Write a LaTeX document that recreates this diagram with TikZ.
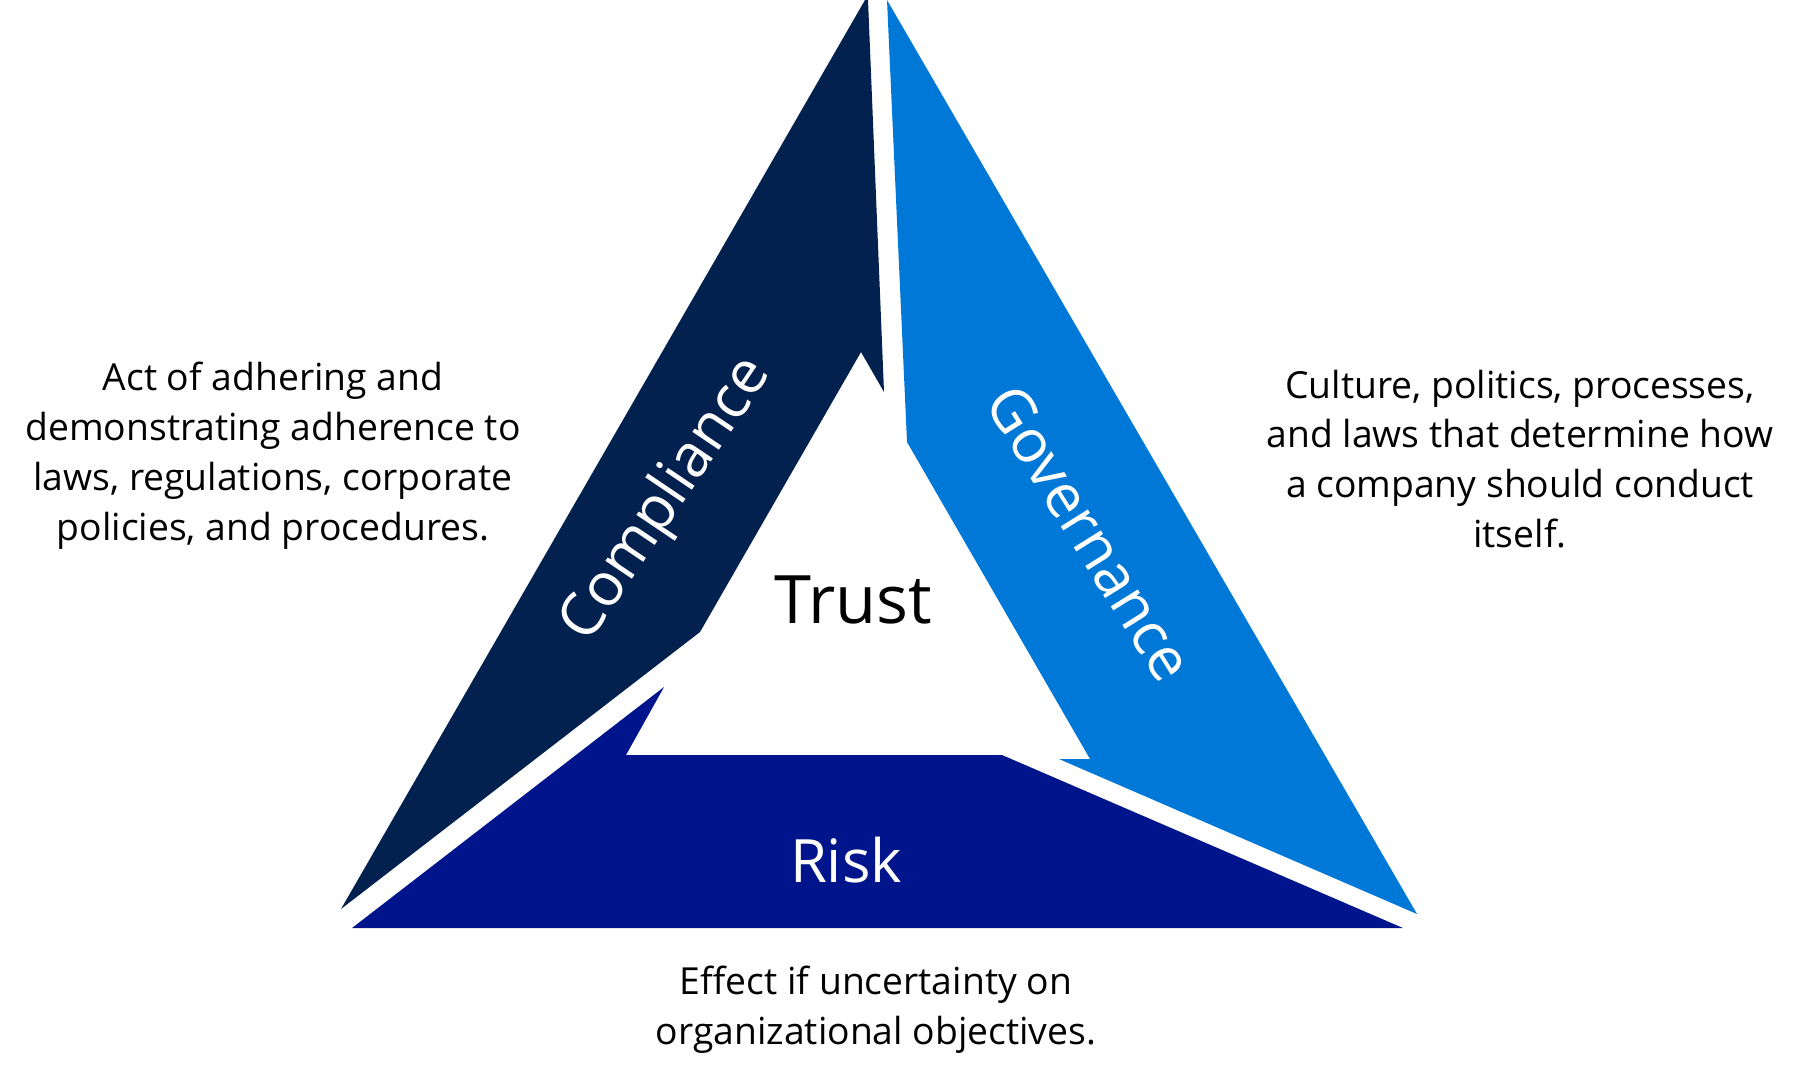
\documentclass[tikz,border=0pt]{standalone}
\usepackage{fontspec}
\setmainfont{Open Sans}
\definecolor{compnavy}{HTML}{03214F}
\definecolor{govblue}{HTML}{0078D7}
\definecolor{riskblue}{HTML}{00158C}
\tikzset{
  desc/.style={align=center, font=\fontsize{10.6}{14.2}\selectfont, inner sep=0pt},
  side/.style={text=white, font=\fontsize{17}{20}\selectfont, inner sep=0pt}
}
\begin{document}
\begin{tikzpicture}[x=0.01cm, y=-0.01cm]
        \useasboundingbox (0,0) rectangle (1810,1084);

        % the three sides
        \fill[compnavy] (865,0) -- (868,0) -- (884,392) -- (861,352) -- (700,632) -- (341,909) -- cycle;
        \fill[govblue] (887,0) -- (1417,914) -- (1059,759) -- (1090,759) -- (907,442) -- cycle;
        \fill[riskblue] (352,928) -- (664,687) -- (626,755) -- (1002,755) -- (1403,928) -- cycle;

        \node[side, rotate=56] (compliance) at (667,500) {Compliance};
        \node[side, rotate=-58] (governance) at (1090,533) {Governance};
        \node[side] (risk) at (846,860) {Risk};
        \node[font=\fontsize{19}{23}\selectfont, inner sep=0pt] (trust) at (853,600) {Trust};

        \node[desc] (compdesc) at (273,456) {Act of adhering and\\demonstrating adherence to\\laws, regulations, corporate\\policies, and procedures.};
        \node[desc] (govdesc) at (1520,459) {Culture, politics, processes,\\and laws that determine how\\a company should conduct\\itself.};
        \node[desc] (riskdesc) at (876,1010) {Effect if uncertainty on\\organizational objectives.};
    \end{tikzpicture}
\end{document}
